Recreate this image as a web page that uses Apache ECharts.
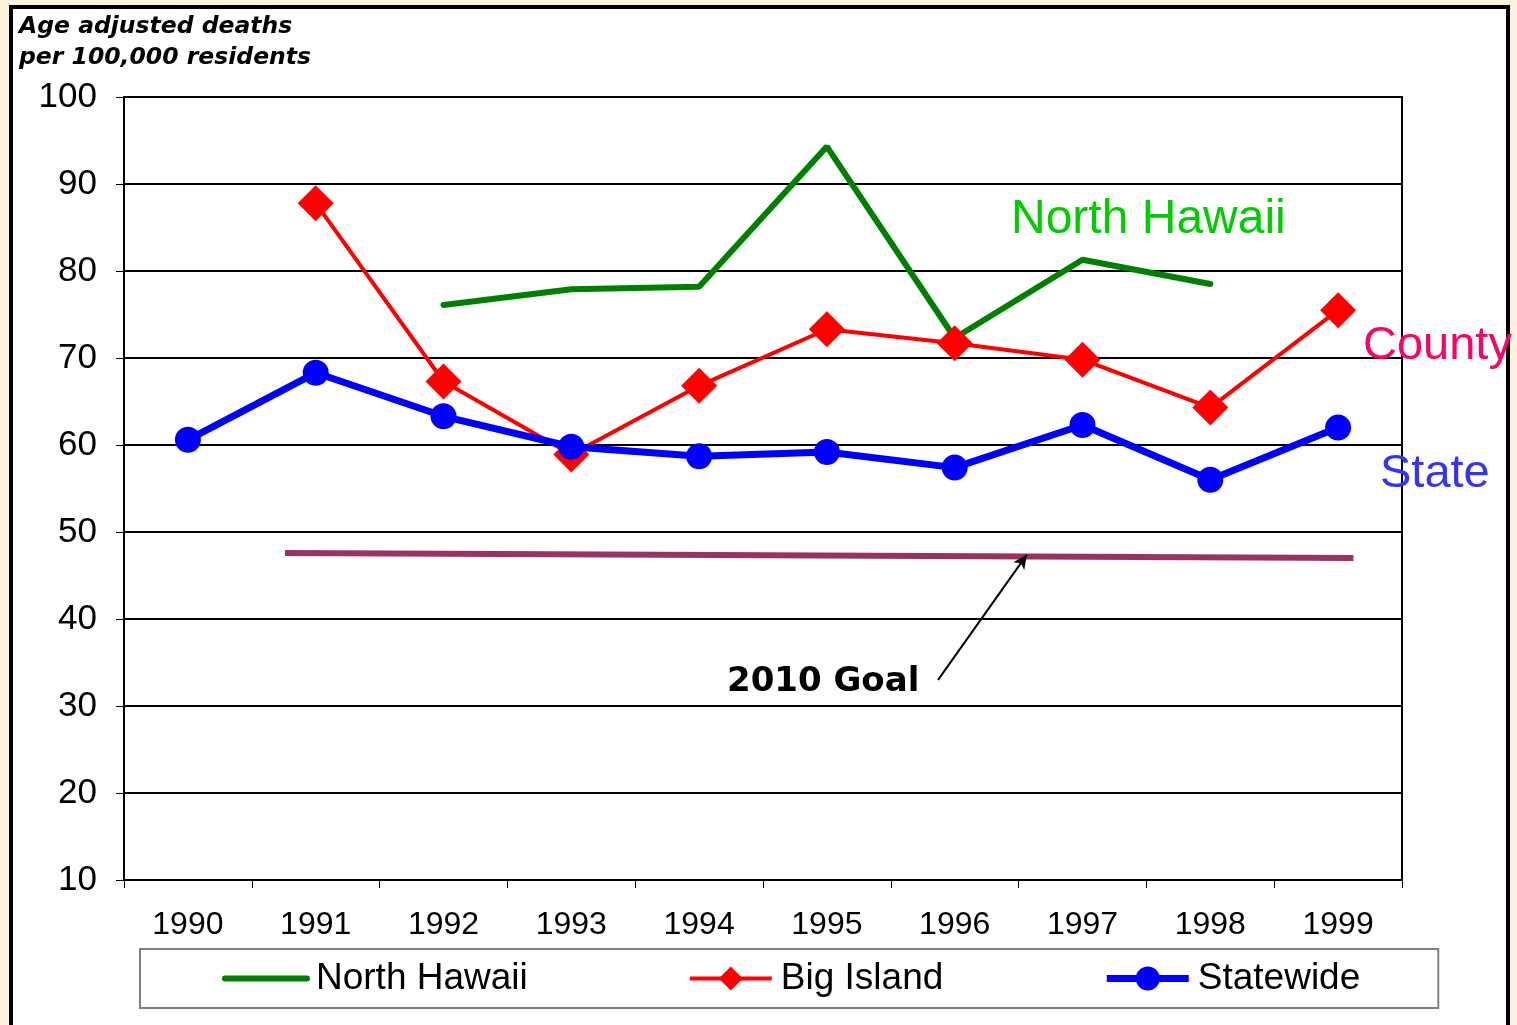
<!DOCTYPE html>
<html>
<head>
<meta charset="utf-8">
<script src="https://cdn.jsdelivr.net/npm/echarts@6/dist/echarts.min.js"></script>
<style>
html,body{margin:0;padding:0;background:#FCF2DE;}
#chart{width:1517px;height:1025px;}
</style>
</head>
<body>
<div id="chart"></div>
<script>
const years = ['1990','1991','1992','1993','1994','1995','1996','1997','1998','1999'];
const northHawaii = [null, null, 76.1, 77.9, 78.2, 94.3, 72.3, 81.3, 78.5, null];
const bigIsland = [null, 87.8, 67.3, 58.9, 66.8, 73.3, 71.7, 69.8, 64.3, 75.5];
const statewide = [60.6, 68.3, 63.3, 59.8, 58.7, 59.2, 57.4, 62.3, 56.0, 62.0];
const goalLine = [[0.76, 47.6], [9.12, 47.0]];
const goalArrow = [[5.87, 33.0], [6.565, 47.4]];
const yTicks = {min: 10, max: 100, interval: 10};

const font = 'Liberation Sans, Arial, sans-serif';
const chart = echarts.init(document.getElementById('chart'), null, {renderer: 'canvas'});
chart.setOption({
  backgroundColor: '#FCF2DE',
  animation: false,
  graphic: [
    {type: 'rect', z: -10, shape: {x: 11, y: 7, width: 1497, height: 1030},
     style: {fill: '#ffffff', stroke: '#000000', lineWidth: 4}},
    {type: 'text', left: 19, top: 11, z: 10,
     style: {text: 'Age adjusted deaths\nper 100,000 residents', font: 'italic bold 23.5px "DejaVu Sans"',
             fill: '#000', lineHeight: 31}},
    {type: 'text', left: 1011, top: 196, z: 10,
     style: {text: 'North Hawaii', font: '48px ' + font, fill: '#00CC00'}},
    {type: 'text', left: 1363, top: 323, z: 10,
     style: {text: 'County', font: '47px ' + font, fill: '#FF0066'}},
    {type: 'text', left: 1380, top: 451, z: 10,
     style: {text: 'State', font: '47px ' + font, fill: '#3333FF'}},
    {type: 'text', left: 727, top: 665, z: 10,
     style: {text: '2010 Goal', font: 'bold 34px "DejaVu Sans"', fill: '#000'}}
  ],
  grid: {left: 124, right: 115, top: 97, bottom: 145, show: true,
         borderColor: '#000', borderWidth: 2, backgroundColor: 'transparent'},
  legend: {
    data: [
      {name: 'North Hawaii', itemStyle: {color: 'transparent', borderWidth: 0, opacity: 0},
       lineStyle: {color: '#008000', width: 6}},
      {name: 'Big Island', lineStyle: {color: '#FF0000', width: 4}},
      {name: 'Statewide', lineStyle: {color: '#0000FF', width: 7}}
    ],
    left: 140, top: 949, orient: 'horizontal',
    padding: [11, 78, 11, 82], itemGap: 160,
    itemWidth: 82, itemHeight: 30,
    borderColor: '#808080', borderWidth: 2, backgroundColor: '#fff',
    textStyle: {fontFamily: font, fontSize: 37, color: '#000', padding: [0, 0, 0, 4]}
  },
  xAxis: [
    {type: 'category', data: years, boundaryGap: true,
     axisLine: {lineStyle: {color: '#000', width: 2}},
     axisTick: {show: true, length: 8, lineStyle: {color: '#000', width: 1}},
     axisLabel: {fontFamily: font, fontSize: 32, color: '#000', margin: 29},
     splitLine: {show: false}},
    {type: 'value', min: -0.5, max: 9.5, show: false}
  ],
  yAxis: {
    type: 'value', min: yTicks.min, max: yTicks.max, interval: yTicks.interval,
    axisLine: {show: true, onZero: false, lineStyle: {color: '#000', width: 2}},
    axisTick: {show: true, length: 8, lineStyle: {color: '#000', width: 1}},
    axisLabel: {fontFamily: font, fontSize: 35, color: '#000', margin: 27},
    splitLine: {show: true, lineStyle: {color: '#000', width: 2}}
  },
  series: [
    {name: 'North Hawaii', type: 'line', data: northHawaii, symbol: 'none', showSymbol: false,
     connectNulls: false, color: '#008000', lineStyle: {color: '#008000', width: 6, cap: 'round'}, z: 3},
    {name: 'Big Island', type: 'line', data: bigIsland, symbol: 'diamond', symbolSize: 36,
     color: '#FF0000', itemStyle: {color: '#FF0000'}, lineStyle: {color: '#FF0000', width: 4}, z: 4},
    {name: 'Statewide', type: 'line', data: statewide, symbol: 'circle', symbolSize: 26,
     color: '#0000FF', itemStyle: {color: '#0000FF'}, lineStyle: {color: '#0000FF', width: 7}, z: 5},
    {name: 'Goal', type: 'line', xAxisIndex: 1, data: goalLine, symbol: 'none',
     lineStyle: {color: '#993366', width: 6}, z: 2,
     markLine: {silent: true, symbol: ['none', 'arrow'], symbolSize: [10, 14],
       label: {show: false},
       lineStyle: {color: '#000', width: 2, type: 'solid'},
       data: [[{coord: goalArrow[0]}, {coord: goalArrow[1]}]]}}
  ]
});
</script>
</body>
</html>
